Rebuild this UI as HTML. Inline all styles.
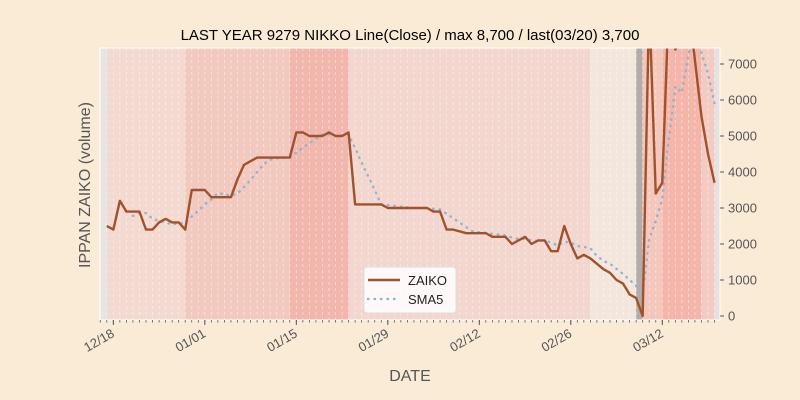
<!DOCTYPE html>
<html><head><meta charset="utf-8"><style>
body{margin:0;background:#faebd7;}
svg{display:block;font-family:"Liberation Sans","DejaVu Sans",sans-serif;}
</style></head><body>
<svg id="chart" width="800" height="400" viewBox="0 0 800 400">
<rect x="0" y="0" width="800" height="400" fill="#faebd7"/>
<text x="410" y="40" text-anchor="middle" font-size="15" fill="#000">LAST YEAR 9279 NIKKO Line(Close) / max 8,700 / last(03/20) 3,700</text>
<g id="plot"></g>
<text x="90" y="185" text-anchor="middle" font-size="16" fill="#555" transform="rotate(-90 90 185)">IPPAN ZAIKO (volume)</text>
<text x="410" y="381" text-anchor="middle" font-size="16" fill="#555">DATE</text>
</svg>
<script>
const zaiko = [2500,2400,3200,2900,2900,2900,2400,2400,2600,2700,2600,2600,2400,3500,3500,3500,3300,3300,3300,3300,3800,4200,4300,4400,4400,4400,4400,4400,4400,5100,5100,5000,5000,5000,5100,5000,5000,5100,3100,3100,3100,3100,3100,3000,3000,3000,3000,3000,3000,3000,2900,2900,2400,2400,2350,2300,2300,2300,2300,2200,2200,2200,2000,2100,2200,2000,2100,2100,1800,1800,2500,2000,1600,1700,1600,1450,1300,1200,1000,900,600,500,0,8700,3400,3700,8700,7400,7800,8700,7100,5540,4500,3700];
const xTickLabels = ["12/18","01/01","01/15","01/29","02/12","02/26","03/12"];
const xTickDays = [1,15,29,43,57,71,85];
const yTicks = [0,1000,2000,3000,4000,5000,6000,7000];
const bandStarts = [0,12,28,37,74,81,82,85,91,93];
const bandColors = ["#f4d9d0","#f1c9bf","#f2b7ac","#f3d6ce","#f3e6dc","#b4aca8","#f5c6bb","#f4b5aa","#f4cbc2","#e6e2df"];

const NS="http://www.w3.org/2000/svg";
const L=100,R=720,T=48,B=320;
function xS(d){return 106.8+d*6.535;}
function yS(v){return 316-v*0.036;}
function mk(tag,attrs,parent){const e=document.createElementNS(NS,tag);for(const k in attrs)e.setAttribute(k,attrs[k]);parent.appendChild(e);return e;}
const svg=document.getElementById('chart');
const g=document.getElementById('plot');
const clip=mk('clipPath',{id:'pc'},mk('defs',{},svg));
mk('rect',{x:L,y:T,width:R-L,height:B-T},clip);
const bg=mk('rect',{x:L,y:T,width:R-L,height:B-T,fill:'#e5e5e5'},g);


const cg=mk('g',{'clip-path':'url(#pc)'},g);
for(let i=0;i<bandStarts.length;i++){
  const x0=xS(bandStarts[i]);
  const x1=i+1<bandStarts.length?xS(bandStarts[i+1]):R;
  const r=mk('rect',{x:x0,y:T,width:Math.max(0,x1-x0),height:B-T,fill:bandColors[i]},cg);
  
  
}
for(let d=-1;d<=94;d++){
  const gl=mk('line',{x1:xS(d),x2:xS(d),y1:T,y2:B,stroke:'#fff','stroke-opacity':0.55,'stroke-width':0.8,'stroke-dasharray':'3,3'},cg);
  
  
}
const sma=[];
for(let i=4;i<zaiko.length;i++){let s=0;for(let j=i-4;j<=i;j++)s+=zaiko[j];sma.push([i,s/5]);}
const sp=mk('polyline',{points:sma.map(p=>xS(p[0])+','+yS(p[1])).join(' '),fill:'none',stroke:'#8fb4cf','stroke-width':2.4,'stroke-dasharray':'0.5,6','stroke-linecap':'round'},cg);


const zp=mk('polyline',{points:zaiko.map((v,i)=>xS(i)+','+yS(v)).join(' '),fill:'none',stroke:'#a0522d','stroke-width':2.4,'stroke-linejoin':'round'},cg);


mk('rect',{x:L,y:T,width:R-L,height:B-T,fill:'none',stroke:'#fff','stroke-width':1},g);
yTicks.forEach(v=>{
  const y=yS(v);
  mk('line',{x1:R,x2:R+4,y1:y,y2:y,stroke:'#555'},g);
  const t=mk('text',{x:R+8,y:y+4.5,'font-size':13,fill:'#555'},g);
  t.textContent=String(v);
  
  
});
for(let d=-1;d<=94;d++){const x=xS(d);if(x<L||x>R)continue;mk('line',{x1:x,x2:x,y1:B,y2:B+2.5,stroke:'#555','stroke-width':0.8},g);}
xTickDays.forEach((d,i)=>{
  const x=xS(d);
  mk('line',{x1:x,x2:x,y1:B,y2:B+5,stroke:'#555'},g);
  const t=mk('text',{x:x+2,y:B+16,'font-size':13,fill:'#555','text-anchor':'end',transform:`rotate(-30 ${x+2} ${B+16})`},g);
  t.textContent=xTickLabels[i];
  
  
});
const lg=mk('g',{},g);


mk('rect',{x:364,y:267,width:92,height:46,rx:3,fill:'#fff','fill-opacity':0.85,stroke:'#ddd'},lg);
mk('line',{x1:368,x2:400,y1:280,y2:280,stroke:'#a0522d','stroke-width':2.4},lg);
mk('line',{x1:368,x2:400,y1:299,y2:299,stroke:'#8fb4cf','stroke-width':2.4,'stroke-dasharray':'0.5,6','stroke-linecap':'round'},lg);
const t1=mk('text',{x:408,y:285,'font-size':13,fill:'#222'},lg);t1.textContent='ZAIKO';


const t2=mk('text',{x:408,y:304,'font-size':13,fill:'#222'},lg);t2.textContent='SMA5';


</script>
</body></html>
